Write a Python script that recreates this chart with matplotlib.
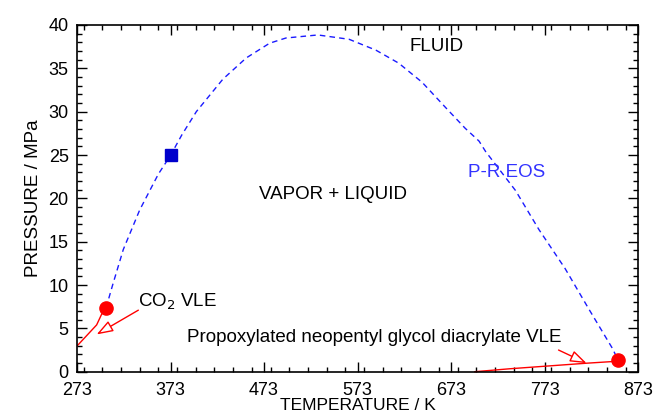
import matplotlib
matplotlib.use("Agg")
import matplotlib.pyplot as plt
from matplotlib.ticker import MultipleLocator

plt.rcParams['font.family'] = ['Liberation Sans', 'DejaVu Sans']

# P-R EOS phase envelope (T in K, P in MPa)
curve_T = [304.1, 311, 322.5, 340, 360, 373, 385, 400.6, 429, 454, 479, 496.5,
           530.6, 564, 592.6, 617, 642, 667, 688, 703, 710, 742, 767, 795, 820, 845, 852]
curve_P = [7.38, 9.97, 14.1, 18.65, 22.8, 24.95, 27.3, 30.0, 33.75, 36.2, 37.9, 38.5,
           38.85, 38.35, 37.1, 35.6, 33.4, 30.5, 28.1, 26.6, 25.4, 20.9, 16.4, 11.9, 7.3, 2.8, 1.3]

# Critical points (VLE)
vle_T = [304.1, 852]
vle_P = [7.38, 1.3]

# Blue square point
sq_T = [373]
sq_P = [24.95]

# Red leader lines
co2_line_T = [302.5, 299.4, 294, 273.3]
co2_line_P = [7.0, 6.65, 5.4, 3.0]
pngd_line_T = [850, 818, 736, 698.5]
pngd_line_P = [1.2, 0.98, 0.34, 0.0]

xticks = [273, 373, 473, 573, 673, 773, 873]
yticks = [0, 5, 10, 15, 20, 25, 30, 35, 40]

fig = plt.figure(figsize=(6.56, 4.2), dpi=100)
ax = fig.add_axes([0.1174, 0.115, 0.9726 - 0.1174, 0.9405 - 0.115])

ax.plot(curve_T, curve_P, color='#1a1aff', lw=1.0, dashes=(4, 3))
ax.plot(sq_T, sq_P, 's', color='#0000cc', ms=9, zorder=5)
ax.plot(vle_T, vle_P, 'o', color='#ff0000', ms=9.5, zorder=5, clip_on=False)

ax.plot(co2_line_T, co2_line_P, color='red', lw=1.0)
ax.plot(pngd_line_T, pngd_line_P, color='red', lw=1.0, clip_on=False)

arrow_kw = dict(arrowstyle='-|>,head_length=1.0,head_width=0.35', color='red',
                fc='white', lw=1.0, shrinkA=0, shrinkB=0)
ax.annotate('', xy=(294, 4.3), xytext=(338.6, 7.1), arrowprops=arrow_kw)
ax.annotate('', xy=(818, 0.98), xytext=(788, 2.5), arrowprops=arrow_kw)

fs = 13.5
ax.text(658, 37.5, 'FLUID', ha='center', va='center', fontsize=fs)
ax.text(547, 20.4, 'VAPOR + LIQUID', ha='center', va='center', fontsize=fs)
ax.text(733, 23.0, 'P-R EOS', ha='center', va='center', fontsize=fs, color='#3333ff')
ax.text(338.5, 8.1, r'CO$_2$ VLE', ha='left', va='center', fontsize=fs)
ax.text(390.5, 4.0, 'Propoxylated neopentyl glycol diacrylate VLE', ha='left',
        va='center', fontsize=fs)

ax.set_xlim(273, 873)
ax.set_ylim(0, 40)
ax.set_xticks(xticks)
ax.set_yticks(yticks)
ax.xaxis.set_minor_locator(MultipleLocator(20))
ax.yaxis.set_minor_locator(MultipleLocator(1))
ax.tick_params(which='both', direction='in', top=True, right=True, labelsize=13, width=1.0)
ax.tick_params(which='major', length=7)
ax.tick_params(axis='x', which='major', pad=7.4)
ax.tick_params(axis='y', which='major', pad=6)
ax.tick_params(which='minor', length=3.5)
for s in ax.spines.values():
    s.set_linewidth(1.2)

ax.set_xlabel('TEMPERATURE / K', fontsize=12.5, labelpad=-1)
ax.set_ylabel('PRESSURE / MPa', fontsize=13.5, labelpad=5)

fig.savefig('out.png', dpi=100)
